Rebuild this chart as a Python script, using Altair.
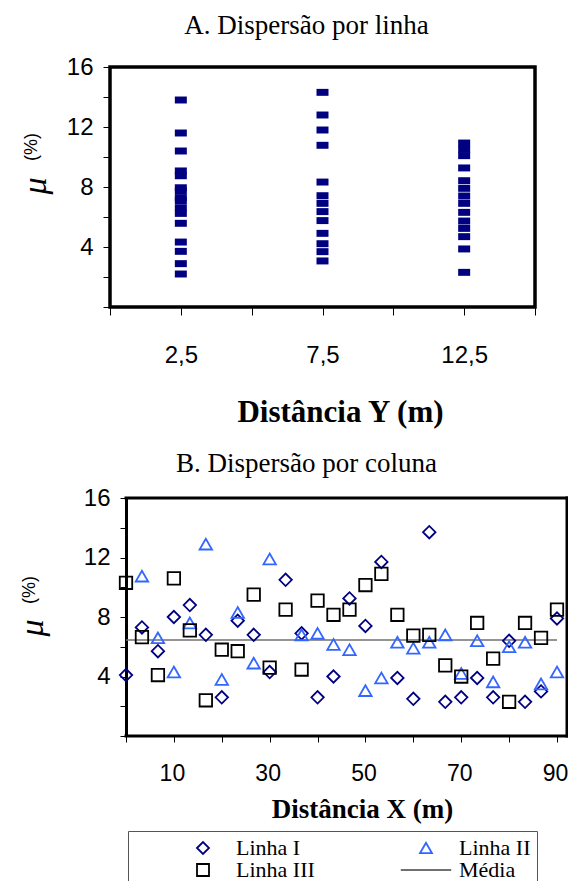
import altair as alt
import pandas as pd

SERIF = "Liberation Serif"
SANS = "Liberation Sans"

# ---------------- Chart A: dispersion by line (Y distance) ----------------
dist_y = [2.5, 7.5, 12.5]
mu_y25 = [13.8, 11.6, 10.4, 9.07, 8.75, 7.95, 7.73, 7.29, 7.09, 6.62, 6.24, 5.58, 4.33, 3.71, 2.89, 2.2]
mu_y75 = [14.31, 12.8, 11.8, 10.78, 8.33, 7.42, 6.91, 6.36, 5.76, 4.91, 4.22, 3.69, 3.07]
mu_y125 = [10.93, 10.51, 10.09, 9.27, 8.42, 7.91, 7.4, 6.91, 6.31, 5.73, 5.24, 4.69, 3.87, 2.31]

# ---------------- Chart B: dispersion by column (X distance) ----------------
dist_x = [0, 3.33, 6.67, 10, 13.33, 16.67, 20, 23.33, 26.67, 30, 33.33, 36.67, 40, 43.33,
          46.67, 50, 53.33, 56.67, 60, 63.33, 66.67, 70, 73.33, 76.67, 80, 83.33, 86.67, 90]
linha_1 = [4.1, 7.3, 5.7, 8.0, 8.8, 6.8, 2.6, 7.75, 6.8, 4.3, 10.5, 6.9, 2.6, 4.0,
           9.25, 7.4, 11.7, 3.9, 2.5, 13.7, 2.3, 2.6, 3.9, 2.6, 6.4, 2.3, 3.0, 7.9]
linha_2 = [None, 10.75, 6.6, 4.3, 7.6, 12.9, 3.8, 8.3, 4.9, 11.9, None, 6.8, 6.9, 6.15,
           5.8, 3.05, 3.9, 6.3, 5.9, 6.3, 6.8, 4.2, 6.4, 3.64, 6.0, 6.3, 3.5, 4.3]
linha_3 = [10.3, 6.65, 4.1, 10.6, 7.1, 2.4, 5.8, 5.7, 9.5, 4.6, 8.5, 4.47, 9.1, 8.15,
           8.5, 10.15, 10.9, 8.15, 6.75, 6.8, 4.75, 4.0, 7.6, 5.2, 2.3, 7.6, 6.6, 8.5]
media = [6.45]
media_span = [0, 90]

series_names = ["Linha I", "Linha II", "Linha III", "Média"]
series_colors = ["#000080", "#3366FF", "#000000", "#707070"]
series_shapes = ["diamond", "triangle-up", "square", "M-4.2,0H4.2"]

# ---------------- data frames ----------------
rows_a = []
for yv, vals in zip(dist_y, [mu_y25, mu_y75, mu_y125]):
    for v in vals:
        rows_a.append({"x": yv, "y": v})
df_a = pd.DataFrame(rows_a)

rows_b = []
for name, vals in zip(series_names[:3], [linha_1, linha_2, linha_3]):
    for xv, v in zip(dist_x, vals):
        if v is not None:
            rows_b.append({"x": xv, "y": v, "serie": name})
df_b = pd.DataFrame(rows_b)
df_mean = pd.DataFrame({"x": [media_span[0]], "x2": [media_span[1]], "y": media, "serie": ["Média"]})

xb_domain = [-3.34, 92.09]
df_frame = pd.DataFrame({
    "x": [0, xb_domain[1], 0],
    "x2": [xb_domain[1], xb_domain[1], xb_domain[1]],
    "y": [16, 16, 0],
    "y2": [16, 0, 0],
})

common_axis = dict(
    labelFont=SANS, labelColor="black",
    tickColor="black", tickWidth=1, grid=False,
    titleFont=SERIF, titleFontWeight="bold", titleColor="black",
)
y_values = [0, 2, 4, 6, 8, 10, 12, 14, 16]
y_label_expr = "(datum.value % 4 == 0 && datum.value > 0) ? datum.label : ''"

# ---------------- Chart A ----------------
xA = alt.X(
    "x:Q",
    scale=alt.Scale(domain=[0, 15], nice=False, zero=False),
    axis=alt.Axis(
        values=[0, 2.5, 5, 7.5, 10, 12.5, 15],
        labelExpr="(datum.value == 2.5 || datum.value == 7.5 || datum.value == 12.5) ? replace(format(datum.value, '.1f'), '.', ',') : ''",
        tickSize=8, labelPadding=28, labelFontSize=24, domain=False,
        title="Distância Y (m)", titleFontSize=31, titlePadding=30, titleX=230,
        **common_axis,
    ),
)
yA = alt.Y(
    "y:Q",
    scale=alt.Scale(domain=[0, 16], nice=False, zero=True),
    axis=alt.Axis(values=y_values, labelExpr=y_label_expr, tickSize=7, labelPadding=10,
                  labelFontSize=24, domain=False, title=None, **common_axis),
)

pts_a = alt.Chart(df_a).mark_point(
    shape="M-1,-0.58H1V0.58H-1Z", size=144, filled=True, color="#000080", opacity=1
).encode(x=xA, y=yA)

mu_a = alt.Chart(pd.DataFrame({"t": ["μ"]})).mark_text(
    font=SERIF, fontStyle="italic", fontSize=34, angle=270, align="center", baseline="middle", color="black"
).encode(x=alt.value(-74), y=alt.value(119), text="t:N")
pct_a = alt.Chart(pd.DataFrame({"t": ["(%)"]})).mark_text(
    font=SANS, fontSize=18, angle=270, align="center", baseline="middle", color="black"
).encode(x=alt.value(-78), y=alt.value(80), text="t:N")

chart_a = alt.layer(pts_a, mu_a, pct_a).properties(
    width=425, height=240,
    title=alt.TitleParams("A. Dispersão por linha", font=SERIF, fontSize=27, fontWeight="normal",
                          color="black", anchor="middle", frame="group", offset=15, dx=-16),
    view=alt.ViewBackground(stroke="black", strokeWidth=3.5),
)

# ---------------- Chart B ----------------
xB = alt.X(
    "x:Q",
    scale=alt.Scale(domain=xb_domain, nice=False, zero=False),
    axis=alt.Axis(
        values=[0, 10, 20, 30, 40, 50, 60, 70, 80, 90],
        labelExpr="(datum.value % 20 == 10) ? datum.label : ''",
        tickSize=6, labelPadding=20, labelFontSize=23, labelOffset=-2, domain=False,
        title="Distância X (m)", titleFontSize=27, titlePadding=11, titleX=252,
        **common_axis,
    ),
)
yB = alt.Y(
    "y:Q",
    scale=alt.Scale(domain=[0, 16], nice=False, zero=True),
    axis=alt.Axis(values=y_values, labelExpr=y_label_expr, tickSize=6, labelPadding=10,
                  labelFontSize=24, offset=-16, domain=True, domainColor="black", domainWidth=3,
                  title=None, **common_axis),
)

legend = alt.Legend(
    title=" ", titleOrient="left", titleFontSize=10, titlePadding=40,
    orient="none", legendX=18, legendY=333, columns=2, direction="horizontal",
    columnPadding=82, rowPadding=-6,
    padding=6, strokeColor="#555555", fillColor="white",
    labelFont=SERIF, labelFontSize=22, labelColor="black",
    symbolSize=144, symbolStrokeWidth=1.8, symbolOffset=18, labelOffset=22,
    labelExpr="datum.label == 'Linha II' ? datum.label + '            ' : datum.label",
)
color_scale = alt.Scale(domain=series_names, range=series_colors)
shape_scale = alt.Scale(domain=series_names, range=series_shapes)

frame_b = alt.Chart(df_frame).mark_rule(color="black", strokeWidth=3, strokeCap="square").encode(
    x=xB, x2="x2:Q", y=yB, y2="y2:Q"
)
mean_b = alt.Chart(df_mean).mark_rule(strokeWidth=1.5).encode(
    x=xB, x2="x2:Q", y=yB,
    color=alt.Color("serie:N", scale=color_scale, legend=legend),
)
pts_b = alt.Chart(df_b).mark_point(size=155, strokeWidth=1.8, filled=False, opacity=1).encode(
    x=xB, y=yB,
    color=alt.Color("serie:N", scale=color_scale, legend=legend),
    shape=alt.Shape("serie:N", scale=shape_scale, legend=legend),
)
mu_b = alt.Chart(pd.DataFrame({"t": ["μ"]})).mark_text(
    font=SERIF, fontStyle="italic", fontSize=34, angle=270, align="center", baseline="middle", color="black"
).encode(x=alt.value(-77), y=alt.value(130), text="t:N")
pct_b = alt.Chart(pd.DataFrame({"t": ["(%)"]})).mark_text(
    font=SANS, fontSize=18, angle=270, align="center", baseline="middle", color="black"
).encode(x=alt.value(-80), y=alt.value(92), text="t:N")

chart_b = alt.layer(frame_b, mean_b, pts_b, mu_b, pct_b).properties(
    width=457, height=238,
    title=alt.TitleParams("B. Dispersão por coluna", font=SERIF, fontSize=27, fontWeight="normal",
                          color="black", anchor="middle", frame="group", offset=8, dx=-32),
    view=alt.ViewBackground(strokeOpacity=0),
)

chart = alt.vconcat(chart_a, chart_b, spacing=21).resolve_scale(
    color="independent", shape="independent"
).properties(
    autosize=alt.AutoSizeParams(type="none"),
    padding={"left": 102, "top": 59, "right": 458, "bottom": 814},
    background="white",
)

chart.save("out.html", embed_options={"renderer": "svg", "actions": False})
